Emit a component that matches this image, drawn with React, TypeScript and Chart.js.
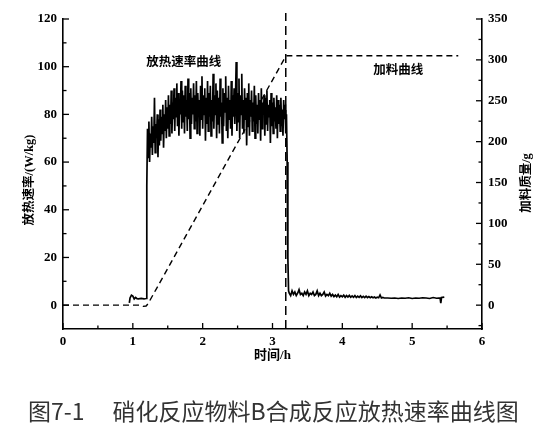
import React, { useEffect, useRef } from "react";
import { Chart, registerables } from "chart.js";

Chart.register(...registerables);

// ---------- data ----------
const preTimes = [0.95, 0.96, 0.98, 1.0, 1.02, 1.04, 1.06, 1.08, 1.12, 1.16, 1.19];
const preRates = [1, 3, 4.2, 3.8, 2.6, 3.2, 2.7, 2.6, 2.8, 2.6, 2.8];

const burstStart = 1.2;
const burstStep = 0.01;
const burstRates = [
  50, 74, 62, 77, 60, 72, 66, 79, 63, 75,
  68, 87, 64, 76, 70, 80, 62, 78, 67, 82,
  69, 79, 72, 84, 66, 80, 73, 86, 70, 83,
  74, 88, 71, 84, 76, 90, 72, 85, 78, 91,
  73, 87, 79, 93, 75, 89, 71, 86, 80, 94,
  74, 90, 77, 88, 72, 92, 79, 86, 73, 95,
  78, 89, 70, 91, 76, 87, 80, 93, 74, 88,
  77, 94, 72, 89, 79, 86, 71, 92, 78, 96,
  74, 88, 80, 91, 69, 87, 76, 94, 73, 89,
  79, 92, 71, 86, 77, 97, 74, 88, 80, 93,
  70, 90, 76, 87, 72, 95, 79, 85, 68, 91,
  75, 89, 81, 96, 73, 87, 70, 92, 78, 86,
  74, 94, 71, 88, 79, 91, 76, 87, 102, 73,
  89, 77, 95, 70, 88, 80, 97, 74, 86, 72,
  91, 78, 87, 67, 89, 75, 93, 71, 86, 79,
  90, 73, 85, 77, 92, 70, 88, 76, 84, 72,
  89, 78, 86, 69, 91, 74, 85, 80, 88, 71,
  87, 76, 90, 73, 84, 79, 86, 68, 89, 75,
  85, 72, 87, 77, 83, 74, 88, 70, 86, 76,
  84, 73, 87, 75, 82, 71, 86, 78, 84, 72,
  80,
];

const dropTimes = [3.21, 3.22, 3.23];
const dropRates = [60, 20, 6];

const tailStart = 3.24;
const tailStep = 0.02;
const tailRates = [
  5, 4, 6, 4.5, 5.5, 4, 5, 6.5, 4.5, 5,
  4, 5.5, 4.5, 6, 4, 5, 4.5, 5.5, 4, 4.5,
  6, 4, 5, 4, 4.5, 5.5, 3.8, 4.5, 4, 5,
  3.8, 4.5, 3.6, 4.2, 3.5, 4.5, 3.4, 4, 3.5, 4.2,
  3.3, 4, 3.4, 4.1, 3.3, 3.9, 3.3, 4, 3.2, 3.8,
  3.3, 3.9, 3.2, 3.7, 3.2, 3.8, 3.2, 3.6, 3.1, 3.5,
  3.1, 3.4, 3, 3.3, 3.1, 4.3, 3, 3.2, 3,
];

const endTimes = [4.65, 4.7, 4.75, 4.8, 4.85, 4.9, 4.95, 5.0, 5.05, 5.1, 5.15, 5.2, 5.25, 5.3, 5.35, 5.4, 5.41, 5.42, 5.46];
const endRates = [3, 2.9, 3, 2.8, 3, 2.9, 3.1, 2.8, 3, 2.9, 3.1, 3, 2.8, 3.2, 2.9, 3, 0.8, 3.2, 3.4];

const feedTimes = [0, 1.1, 1.15, 1.19, 1.22, 3.18, 3.21, 5.66];
const feedMass = [0, 0, -1.5, -1, 2, 303, 305, 305];

const markerTime = 3.19;
const markerRates = [-10, 122.5];

const xTickValues = [0, 1, 2, 3, 4, 5, 6];
const xMinorValues = [0.5, 1.5, 2.5, 3.5, 4.5, 5.5];
const rateTickValues = [0, 20, 40, 60, 80, 100, 120];
const rateMinorValues = [10, 30, 50, 70, 90, 110];
const massTickValues = [0, 50, 100, 150, 200, 250, 300, 350];
const massMinorValues = [-25, 25, 75, 125, 175, 225, 275, 325];

const rateTitle = "放热速率/(W/kg)";
const massTitle = "加料质量/g";
const timeTitle = "时间/h";
const heatLabel = "放热速率曲线";
const feedLabel = "加料曲线";
const captionNo = "图7-1";
const captionText = "硝化反应物料B合成反应放热速率曲线图";

// ---------- helpers ----------
const pts = (xs: number[], ys: number[]) => xs.map((x, i) => ({ x, y: ys[i] }));
const sampled = (start: number, step: number, ys: number[]) =>
  ys.map((y, i) => ({ x: Math.round((start + i * step) * 1000) / 1000, y }));

const heatData = [
  ...pts(preTimes, preRates),
  ...sampled(burstStart, burstStep, burstRates),
  ...pts(dropTimes, dropRates),
  ...sampled(tailStart, tailStep, tailRates),
  ...pts(endTimes, endRates),
];
const feedData = pts(feedTimes, feedMass);
const markerData = markerRates.map((y) => ({ x: markerTime, y }));

const labelSpecs = [
  { text: heatLabel, x: 1.73, y: 101.5, axis: "y" },
  { text: feedLabel, x: 4.8, y: 98.5, axis: "y" },
];

const serifBold = { family: '"Liberation Serif", "Times New Roman", serif', size: 13, weight: "bold" as const };
const cjkFont = '"Liberation Serif", "Noto Sans CJK SC", sans-serif';

const decorPlugin = {
  id: "decor",
  afterDraw(chart: any) {
    const { ctx, chartArea, scales } = chart;
    const x = scales.x;
    const y = scales.y;
    const y2 = scales.y2;
    ctx.save();
    ctx.strokeStyle = "#000";
    ctx.lineWidth = 1.3;
    const major = 6;
    const minor = 3.5;
    const tickV = (scale: any, vals: number[], len: number, dir: number, baseX: number) => {
      vals.forEach((v) => {
        const py = scale.getPixelForValue(v);
        ctx.beginPath();
        ctx.moveTo(baseX, py);
        ctx.lineTo(baseX + dir * len, py);
        ctx.stroke();
      });
    };
    tickV(y, rateTickValues, major, 1, chartArea.left);
    tickV(y, rateMinorValues, minor, 1, chartArea.left);
    tickV(y2, massTickValues, major, -1, chartArea.right);
    tickV(y2, massMinorValues, minor, -1, chartArea.right);
    const tickH = (vals: number[], len: number) => {
      vals.forEach((v) => {
        const px = x.getPixelForValue(v);
        ctx.beginPath();
        ctx.moveTo(px, chartArea.bottom);
        ctx.lineTo(px, chartArea.bottom - len);
        ctx.stroke();
      });
    };
    tickH(xTickValues, major);
    tickH(xMinorValues, minor);

    ctx.fillStyle = "#000";
    ctx.textAlign = "center";
    ctx.textBaseline = "middle";
    ctx.font = `bold 12.5px ${cjkFont}`;
    labelSpecs.forEach((l) => {
      const sc = scales[l.axis];
      ctx.fillText(l.text, x.getPixelForValue(l.x), sc.getPixelForValue(l.y));
    });
    const midY = (chartArea.top + chartArea.bottom) / 2;
    ctx.font = `bold 12.5px ${cjkFont}`;
    ctx.save();
    ctx.translate(chartArea.left - 33, midY + 6);
    ctx.rotate(-Math.PI / 2);
    ctx.fillText(rateTitle, 0, 0);
    ctx.restore();
    ctx.save();
    ctx.translate(chartArea.right + 45, midY + 9);
    ctx.rotate(-Math.PI / 2);
    ctx.fillText(massTitle, 0, 0);
    ctx.restore();
    ctx.font = `bold 13px ${cjkFont}`;
    ctx.fillText(timeTitle, (chartArea.left + chartArea.right) / 2, chartArea.bottom + 27);
    ctx.restore();
  },
};

export default function App() {
  const ref = useRef<HTMLCanvasElement | null>(null);
  useEffect(() => {
    if (!ref.current) return;
    const chart = new Chart(ref.current, {
      type: "line",
      data: {
        datasets: [
          {
            label: "heat",
            data: heatData,
            yAxisID: "y",
            borderColor: "#000",
            borderWidth: 1.7,
            pointRadius: 0,
            tension: 0,
          },
          {
            label: "feed",
            data: feedData,
            yAxisID: "y2",
            borderColor: "#000",
            borderWidth: 1.4,
            borderDash: [6, 4],
            pointRadius: 0,
            tension: 0,
          },
          {
            label: "marker",
            data: markerData,
            yAxisID: "y",
            borderColor: "#000",
            borderWidth: 1.5,
            borderDash: [9, 5],
            pointRadius: 0,
            clip: false as any,
          },
        ],
      },
      options: {
        responsive: false,
        animation: false,
        events: [],
        layout: { padding: { top: 19, left: 0, right: 0, bottom: 0 } },
        plugins: { legend: { display: false }, tooltip: { enabled: false }, title: { display: false } },
        scales: {
          x: {
            type: "linear",
            min: 0,
            max: 6,
            grid: { display: false, drawTicks: false },
            border: { display: true, color: "#000", width: 1.6 },
            ticks: { color: "#000", font: serifBold, padding: 5, maxRotation: 0 },
            afterBuildTicks: (s: any) => {
              s.ticks = xTickValues.map((value) => ({ value }));
            },
            afterFit: (s: any) => {
              s.height = 105;
            },
          },
          y: {
            type: "linear",
            position: "left",
            min: -10,
            max: 120,
            grid: { display: false, drawTicks: false },
            border: { display: true, color: "#000", width: 1.6 },
            ticks: { color: "#000", font: serifBold, padding: 6 },
            afterBuildTicks: (s: any) => {
              s.ticks = rateTickValues.map((value) => ({ value }));
            },
            afterFit: (s: any) => {
              s.width = 63;
            },
          },
          y2: {
            type: "linear",
            position: "right",
            min: -350 / 12,
            max: 350,
            grid: { display: false, drawTicks: false },
            border: { display: true, color: "#000", width: 1.6 },
            ticks: { color: "#000", font: serifBold, padding: 6 },
            afterBuildTicks: (s: any) => {
              s.ticks = massTickValues.map((value) => ({ value }));
            },
            afterFit: (s: any) => {
              s.width = 68;
            },
          },
        },
      },
      plugins: [decorPlugin],
    });
    return () => chart.destroy();
  }, []);

  return (
    <div style={{ position: "absolute", left: 0, top: 0, width: 550, height: 434, background: "#fff" }}>
      <canvas ref={ref} width={550} height={434} style={{ width: 550, height: 434, display: "block" }} />
      <div
        style={{
          position: "absolute",
          left: 28,
          top: 395,
          fontFamily: '"Noto Sans CJK SC", sans-serif',
          fontWeight: 400,
          fontSize: 23,
          lineHeight: "30px",
          color: "#333",
          whiteSpace: "nowrap",
        }}
      >
        <span>{captionNo}</span>
        <span style={{ marginLeft: 28 }}>{captionText}</span>
      </div>
    </div>
  );
}
